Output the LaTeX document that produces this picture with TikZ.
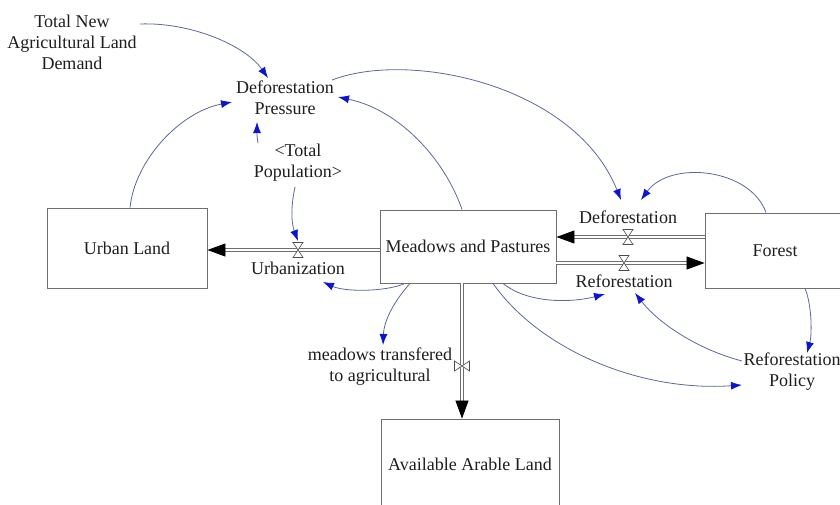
\documentclass[tikz,border=0pt]{standalone}
\usepackage{fontspec}
\setmainfont{Liberation Serif}
\usetikzlibrary{arrows.meta}
\definecolor{conn}{RGB}{95,105,150}
\definecolor{tipblue}{RGB}{10,20,210}
\definecolor{boxgray}{RGB}{110,110,110}
\definecolor{txt}{RGB}{30,30,30}
\tikzset{
  lbl/.style={align=center, text=txt, inner sep=1pt, font=\fontsize{18}{21}\selectfont},
  stock/.style={draw=boxgray, line width=0.9pt, text=txt, inner sep=0pt, font=\fontsize{18}{21}\selectfont},
  pipe/.style={draw=boxgray, double=white, double distance=2.6pt, line width=0.8pt,
    -{Triangle[length=18pt,width=13pt,black]}},
  valve/.style={draw=black!70, line width=0.6pt, fill=white},
  link/.style={draw=conn, line width=0.8pt, -{Latex[length=11pt,width=8pt,tipblue]}}
}
\begin{document}
\begin{tikzpicture}[x=1pt,y=-1pt]
\useasboundingbox (0,0) rectangle (840,504);
\clip (0,0) rectangle (840,504);
\fill[white] (0,0) rectangle (840,504);

% stocks
\node[stock, minimum width=160pt, minimum height=80pt] (urban) at (127,248) {Urban Land};
\node[stock, minimum width=176pt, minimum height=73pt] (meadows) at (468,246.5) {Meadows and Pastures};
\node[stock, minimum width=142pt, minimum height=75pt, text width=142pt, align=center] (forest) at (776,250.5) {\hspace*{-2pt}Forest};
\node[stock, minimum width=178pt, minimum height=90pt] (arable) at (470,464) {Available Arable Land};

% auxiliaries
\node[lbl] (tnald) at (72,42) {Total New\\Agricultural Land\\Demand};
\node[lbl] (dp) at (285,98) {Deforestation\\Pressure};
\node[lbl] (tp) at (298,163) {<Total\\Population>};
\node[lbl] (rp) at (792,372) {Reforestation\\Policy};

% valves
\coordinate (uv) at (298,250);
\coordinate (dv) at (628,237);
\coordinate (rv) at (624,263);
\coordinate (mv) at (462,366);

% flows
\draw[pipe] (meadows.west|-uv) -- (urban.east|-uv);
\draw[pipe] (forest.west|-dv) -- (meadows.east|-dv);
\draw[pipe] (meadows.east|-rv) -- (forest.west|-rv);
\draw[pipe] (meadows.south-|mv) -- (arable.north-|mv);

\draw[valve, shift={(uv)}] (-5,-7.5) -- (5,-7.5) -- (-5,7.5) -- (5,7.5) -- cycle;
\draw[valve, shift={(dv)}] (-5,-7.5) -- (5,-7.5) -- (-5,7.5) -- (5,7.5) -- cycle;
\draw[valve, shift={(rv)}] (-5,-7.5) -- (5,-7.5) -- (-5,7.5) -- (5,7.5) -- cycle;
\draw[valve, shift={(mv)}] (-7.5,-5) -- (-7.5,5) -- (7.5,-5) -- (7.5,5) -- cycle;

% flow labels
\node[lbl] (urbl) at (298,268) {Urbanization};
\node[lbl] (defl) at (628,217) {Deforestation};
\node[lbl] (refl) at (624,281) {Reforestation};
\node[lbl] (mtl) at (380,367) {meadows transfered\\to agricultural};

% connectors
\draw[link] ([shift={(68,-18)}]tnald.center) .. controls (190,22) and (245,45) .. ([shift={(-17,-20)}]dp.center);
\draw[link] ([xshift=3pt]urban.north) .. controls (135,160) and (180,112) .. ([shift={(-53,4)}]dp.center);
\draw[link] ([xshift=-6pt]meadows.north) .. controls (445,160) and (400,110) .. ([shift={(53,-1)}]dp.center);
\draw[link] ([shift={(-40,-20)}]tp.center) .. controls (257,136) .. ([shift={(-28,24)}]dp.center);
\draw[link] ([shift={(-3,24)}]tp.center) .. controls (290,210) and (292,225) .. ([yshift=9pt]uv);
\draw[link] ([shift={(47,-18)}]dp.center) .. controls (410,50) and (575,85) .. ([shift={(-7,-17)}]defl.center);
\draw[link] ([xshift=-10pt]forest.north) .. controls (750,168) and (670,160) .. ([shift={(13,-17)}]defl.center);
\draw[link] ([xshift=-63pt]meadows.south) .. controls (385,292) and (345,292) .. ([shift={(25,14)}]urbl.center);
\draw[link] ([xshift=35pt]meadows.south) .. controls (530,305) and (575,302) .. ([shift={(-19,13)}]refl.center);
\draw[link] ([xshift=-58pt]meadows.south) .. controls (395,300) and (384,320) .. ([shift={(3,-22)}]mtl.center);
\draw[link] ([xshift=25pt]meadows.south) .. controls (540,350) and (640,392) .. ([shift={(-50,13)}]rp.center);
\draw[link] ([xshift=29pt]forest.south) .. controls (812,305) and (812,335) .. ([shift={(15,-19)}]rp.center);
\draw[link] ([shift={(-50,-11)}]rp.center) .. controls (700,350) and (660,325) .. ([shift={(11,12)}]refl.center);
\end{tikzpicture}
\end{document}
